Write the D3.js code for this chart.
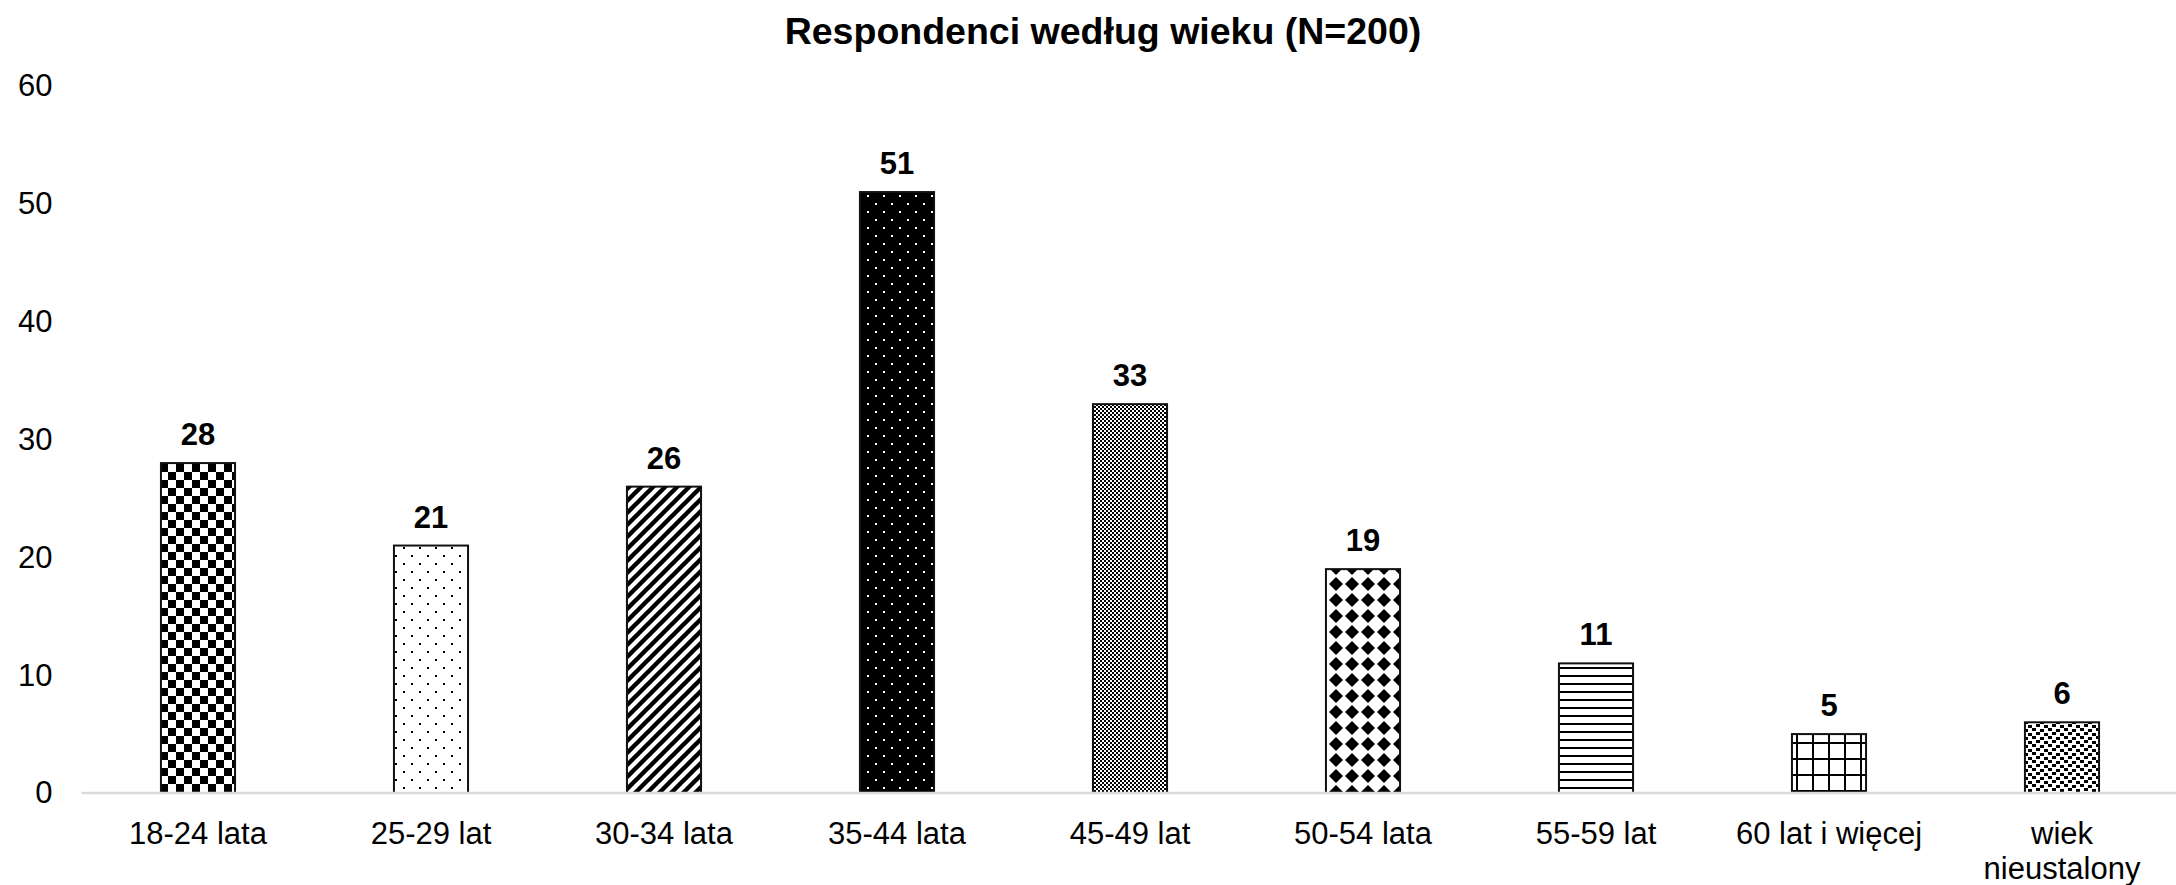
<!DOCTYPE html>
<html>
<head>
<meta charset="utf-8">
<script src="https://cdn.jsdelivr.net/npm/d3@7"></script>
<style>
  body { margin: 0; background: #fff; }
  text { font-family: "Liberation Sans", Arial, sans-serif; fill: #000; }
</style>
</head>
<body>
<svg id="chart"></svg>
<script>
// Data
const categories = ["18-24 lata", "25-29 lat", "30-34 lata", "35-44 lata", "45-49 lat",
                    "50-54 lata", "55-59 lat", "60 lat i więcej", "wiek nieustalony"];
const values = [28, 21, 26, 51, 33, 19, 11, 5, 6];
const yTicks = [0, 10, 20, 30, 40, 50, 60];
const title = "Respondenci według wieku (N=200)";

const width = 2176, height = 885;
const margin = {top: 86, bottom: 92, left: 81.5, right: -2.5};

const svg = d3.select("#chart")
    .attr("width", width)
    .attr("height", height);

// Fill patterns, one per bar
const defs = svg.append("defs");

function pattern(id, w, h, bg) {
    const p = defs.append("pattern")
        .attr("id", id)
        .attr("patternUnits", "userSpaceOnUse")
        .attr("width", w).attr("height", h);
    p.append("rect").attr("width", w).attr("height", h).attr("fill", bg);
    return p;
}

// checkerboard
let p = pattern("p0", 16, 16, "#fff");
p.append("rect").attr("width", 8).attr("height", 8).attr("fill", "#000");
p.append("rect").attr("x", 8).attr("y", 8).attr("width", 8).attr("height", 8).attr("fill", "#000");

// sparse dots
p = pattern("p1", 16, 16, "#fff");
p.append("rect").attr("x", 3).attr("y", 3).attr("width", 2).attr("height", 2).attr("fill", "#000");
p.append("rect").attr("x", 11).attr("y", 11).attr("width", 2).attr("height", 2).attr("fill", "#000");

// wide upward diagonal
p = pattern("p2", 12, 12, "#fff");
p.append("path").attr("d", "M-6,6 L6,-6 M0,12 L12,0 M6,18 L18,6")
    .attr("stroke", "#000").attr("stroke-width", 4.4);

// white dots on black
p = pattern("p3", 16, 16, "#000");
p.append("rect").attr("x", 3).attr("y", 3).attr("width", 2).attr("height", 2).attr("fill", "#fff");
p.append("rect").attr("x", 11).attr("y", 11).attr("width", 2).attr("height", 2).attr("fill", "#fff");

// fine checkerboard
p = pattern("p4", 4, 4, "#fff");
p.append("rect").attr("width", 2).attr("height", 2).attr("fill", "#000");
p.append("rect").attr("x", 2).attr("y", 2).attr("width", 2).attr("height", 2).attr("fill", "#000");

// solid diamonds
p = pattern("p5", 16, 16, "#fff");
p.append("path").attr("d", "M8,1 L15,8 L8,15 L1,8 Z").attr("fill", "#000");

// horizontal lines
p = pattern("p6", 8, 8, "#fff");
p.append("rect").attr("y", 3).attr("width", 8).attr("height", 2).attr("fill", "#000");

// grid
p = pattern("p7", 16, 16, "#fff");
p.append("rect").attr("x", 4).attr("width", 2).attr("height", 16).attr("fill", "#000");
p.append("rect").attr("y", 6).attr("width", 16).attr("height", 2).attr("fill", "#000");

// confetti
p = pattern("p8", 16, 8, "#fff");
[[0, 0], [8, 1], [4, 4], [12, 5]].forEach(function(c) {
    p.append("rect").attr("x", c[0]).attr("y", c[1]).attr("width", 4).attr("height", 3).attr("fill", "#000");
});

// Scales
const xScale = d3.scaleBand()
    .domain(categories)
    .range([margin.left, width - margin.right])
    .paddingInner(0.682)
    .paddingOuter(0.341);

const yScale = d3.scaleLinear()
    .domain([0, 60])
    .range([height - margin.bottom, margin.top]);

// Title
svg.append("text")
    .attr("x", 1103)
    .attr("y", 44)
    .attr("text-anchor", "middle")
    .style("font-size", "37.5px")
    .style("font-weight", "bold")
    .text(title);

// Y axis labels (no axis line)
const yAxis = svg.append("g")
    .attr("transform", `translate(${margin.left},0)`)
    .call(d3.axisLeft(yScale).tickValues(yTicks).tickSize(0).tickPadding(29));
yAxis.select(".domain").remove();
yAxis.selectAll("text")
    .style("font-size", "31px")
    .style("font-family", "'Liberation Sans', Arial, sans-serif")
    .attr("fill", "#000");

// Bars
svg.selectAll("rect.bar")
    .data(values)
    .enter().append("rect")
    .attr("class", "bar")
    .attr("x", (d, i) => xScale(categories[i]))
    .attr("y", d => yScale(d))
    .attr("width", xScale.bandwidth())
    .attr("height", d => yScale(0) - yScale(d))
    .attr("fill", (d, i) => `url(#p${i})`)
    .attr("stroke", "#111")
    .attr("stroke-width", 2);

// X axis line
svg.append("line")
    .attr("x1", margin.left).attr("x2", width)
    .attr("y1", yScale(0)).attr("y2", yScale(0))
    .attr("stroke", "#d9d9d9")
    .attr("stroke-width", 2.5);

// Value labels
svg.selectAll("text.value")
    .data(values)
    .enter().append("text")
    .attr("class", "value")
    .attr("x", (d, i) => xScale(categories[i]) + xScale.bandwidth() / 2)
    .attr("y", d => yScale(d) - 18)
    .attr("text-anchor", "middle")
    .style("font-size", "31px")
    .style("font-weight", "bold")
    .text(d => d);

// Category labels, wrapped when too long
svg.selectAll("text.cat")
    .data(categories)
    .enter().append("text")
    .attr("class", "cat")
    .attr("text-anchor", "middle")
    .style("font-size", "31px")
    .attr("transform", d => `translate(${xScale(d) + xScale.bandwidth() / 2},${yScale(0) + 51})`)
    .each(function(d) {
        const lines = d === "wiek nieustalony" ? ["wiek", "nieustalony"] : [d];
        d3.select(this).selectAll("tspan")
            .data(lines)
            .enter().append("tspan")
            .attr("x", 0)
            .attr("dy", (l, i) => i === 0 ? 0 : 35)
            .text(l => l);
    });
</script>
</body>
</html>
